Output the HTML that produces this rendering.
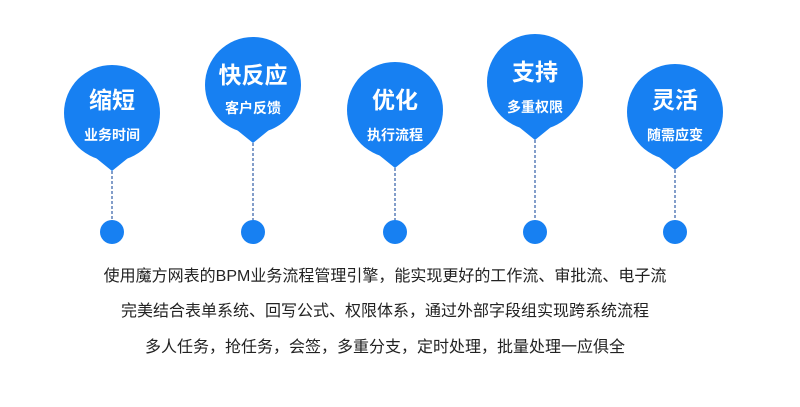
<!DOCTYPE html>
<html><head><meta charset="utf-8"><style>
body{margin:0;background:#fff;width:800px;height:407px;overflow:hidden;position:relative;font-family:"Liberation Sans","Noto Sans CJK SC",sans-serif}
svg{position:absolute;left:0;top:0}
.t{position:absolute;left:0;width:770px;text-align:center;font-size:16px;color:#222}
</style></head><body>
<svg width="800" height="407" font-family="Liberation Sans, Noto Sans CJK SC, sans-serif">
<g fill="#1780f2">
<circle cx="112" cy="113" r="48"/><path d="M96 158 L112 171 L128 158Z"/>
<circle cx="253" cy="85" r="48"/><path d="M237 130 L253 143 L269 130Z"/>
<circle cx="395" cy="110" r="48"/><path d="M379 155 L395 168 L411 155Z"/>
<circle cx="535" cy="82" r="48"/><path d="M519 127 L535 140 L551 127Z"/>
<circle cx="675" cy="112" r="48"/><path d="M659 157 L675 170 L691 157Z"/>
<circle cx="112" cy="232" r="12"/><circle cx="253" cy="232" r="12"/><circle cx="395" cy="232" r="12"/><circle cx="535" cy="232" r="12"/><circle cx="675" cy="232" r="12"/>
</g>
<g stroke="#5a7fb8" stroke-width="1.5" stroke-dasharray="3,2">
<line x1="112" y1="171" x2="112" y2="220"/><line x1="253" y1="143" x2="253" y2="220"/><line x1="395" y1="168" x2="395" y2="220"/><line x1="535" y1="140" x2="535" y2="220"/><line x1="675" y1="170" x2="675" y2="220"/>
</g>
<g fill="#fff" font-weight="bold" text-anchor="middle">
<text x="112" y="108" font-size="23">缩短</text><text x="112" y="140" font-size="14">业务时间</text>
<text x="253" y="83" font-size="23">快反应</text><text x="253" y="113" font-size="14">客户反馈</text>
<text x="395" y="108" font-size="23">优化</text><text x="395" y="140" font-size="14">执行流程</text>
<text x="535" y="80" font-size="23">支持</text><text x="535" y="112" font-size="14">多重权限</text>
<text x="675" y="108" font-size="23">灵活</text><text x="675" y="140" font-size="14">随需应变</text>
</g>
</svg>
<div class="t" style="top:262px">使用魔方网表的BPM业务流程管理引擎，能实现更好的工作流、审批流、电子流</div>
<div class="t" style="top:297px">完美结合表单系统、回写公式、权限体系，通过外部字段组实现跨系统流程</div>
<div class="t" style="top:333px">多人任务，抢任务，会签，多重分支，定时处理，批量处理一应俱全</div>
</body></html>
